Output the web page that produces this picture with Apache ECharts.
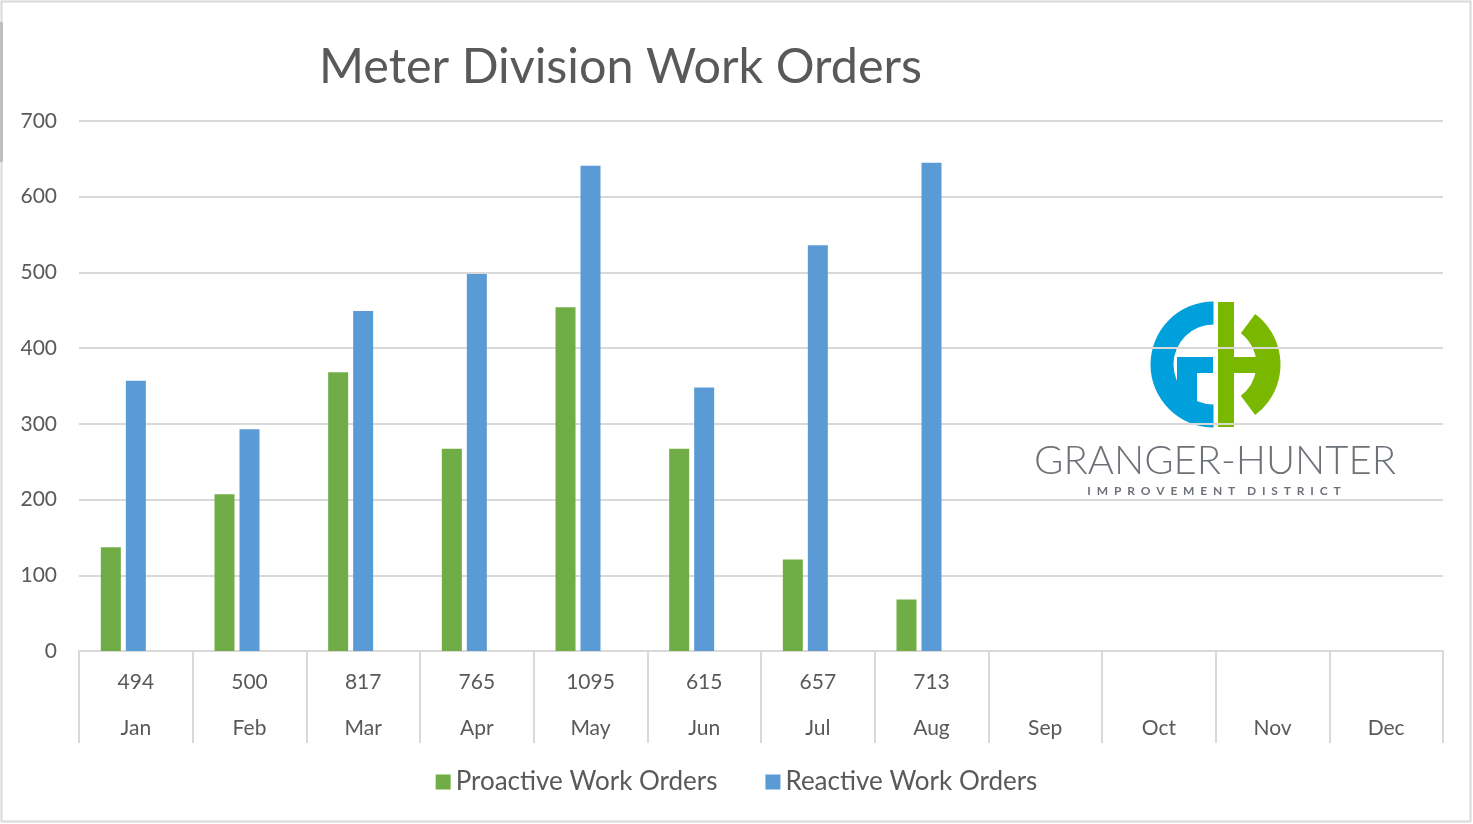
<!DOCTYPE html>
<html>
<head>
<meta charset="utf-8">
<title>Meter Division Work Orders</title>
<script src="https://cdn.jsdelivr.net/npm/echarts@6/dist/echarts.min.js"></script>
<style>
  html, body { margin: 0; padding: 0; background: #fff; }
  #chart { width: 1473px; height: 824px; }
</style>
</head>
<body>
<div id="chart"></div>
<script>
// data
const months = ['Jan', 'Feb', 'Mar', 'Apr', 'May', 'Jun', 'Jul', 'Aug', 'Sep', 'Oct', 'Nov', 'Dec']
const totals = ['494', '500', '817', '765', '1095', '615', '657', '713', '', '', '', '']
const proactive = [137, 207, 368, 267, 454, 267, 121, 68]
const reactive = [357, 293, 449, 498, 641, 348, 536, 645]
const yTicks = [0, 100, 200, 300, 400, 500, 600, 700]

const FONT = 'Lato, "Open Sans", sans-serif'
const TEXT = '#595959'
const GRID = '#d9d9d9'
const GREEN = '#70ad47'
const BLUE = '#5b9bd5'

const chart = echarts.init(document.getElementById('chart'))

// logo: GH circle made of two half rings plus the letter strokes
const cx = 1215.5
const cy = 364.5
const logo = [
  // G (blue)
  { type: 'sector', shape: { cx: cx - 2, cy: cy, r0: 40, r: 63, startAngle: Math.PI / 2, endAngle: Math.PI * 3 / 2 }, style: { fill: '#00a0dc' } },
  { type: 'rect', shape: { x: 1177, y: 357, width: 36, height: 16 }, style: { fill: '#00a0dc' } },
  { type: 'rect', shape: { x: 1177, y: 357, width: 20, height: 44 }, style: { fill: '#00a0dc' } },
  // H (green)
  { type: 'sector', shape: { cx: cx + 2, cy: cy, r0: 39, r: 63, startAngle: -0.93, endAngle: 0.93 }, style: { fill: '#7ab800' } },
  { type: 'rect', shape: { x: 1218, y: 302, width: 16, height: 125 }, style: { fill: '#7ab800' } },
  { type: 'rect', shape: { x: 1218, y: 357, width: 40, height: 16 }, style: { fill: '#7ab800' } },
  // words
  { type: 'text', x: 1215, y: 461, style: { text: 'GRANGER-HUNTER', font: '300 40px ' + FONT, fill: '#6d7278', align: 'center', verticalAlign: 'middle' } },
  { type: 'text', x: 1214, y: 491, style: { text: 'I  M  P  R  O  V  E  M  E  N  T    D  I  S  T  R  I  C  T', font: 'bold 12px ' + FONT, fill: '#6d7278', align: 'center', verticalAlign: 'middle' } }
]

chart.setOption({
  animation: false,
  backgroundColor: '#fff',
  textStyle: { fontFamily: FONT },
  title: {
    text: 'Meter Division Work Orders',
    left: 314,
    top: 38,
    textStyle: { fontSize: 48.5, fontWeight: 'normal', color: TEXT, fontFamily: FONT }
  },
  legend: {
    data: ['Proactive Work Orders', 'Reactive Work Orders'],
    left: 'center',
    top: 764,
    icon: 'rect',
    itemWidth: 15,
    itemHeight: 15,
    itemGap: 48,
    textStyle: { fontSize: 26, color: TEXT, fontFamily: FONT }
  },
  grid: { left: 79, right: 30, top: 121, bottom: 173 },
  xAxis: {
    type: 'category',
    data: months,
    axisLine: { lineStyle: { color: GRID, width: 2 } },
    axisTick: { show: true, length: 92, lineStyle: { color: GRID, width: 2 } },
    axisLabel: {
      margin: 8,
      formatter: (v, i) => '{t|' + totals[i] + '}\n{m|' + v + '}',
      rich: {
        t: { fontSize: 21, color: TEXT, lineHeight: 46, fontFamily: FONT },
        m: { fontSize: 21, color: TEXT, lineHeight: 46, fontFamily: FONT }
      }
    }
  },
  yAxis: {
    type: 'value',
    min: yTicks[0],
    max: yTicks[yTicks.length - 1],
    interval: 100,
    axisLine: { show: false },
    axisTick: { show: false },
    axisLabel: { margin: 22, fontSize: 21, color: TEXT, fontFamily: FONT },
    splitLine: { lineStyle: { color: GRID, width: 2 } }
  },
  series: [
    {
      name: 'Proactive Work Orders',
      type: 'bar',
      barWidth: 20,
      barGap: '25%',
      itemStyle: { color: GREEN },
      data: proactive
    },
    {
      name: 'Reactive Work Orders',
      type: 'bar',
      barWidth: 20,
      barGap: '25%',
      itemStyle: { color: BLUE },
      data: reactive
    },
    {
      // empty third slot (the total row in the original sheet), keeps the pair off-centre
      name: 'Total',
      type: 'bar',
      barWidth: 20,
      barGap: '25%',
      data: []
    }
  ],
  graphic: [
    { type: 'rect', shape: { x: 1.5, y: 1.5, width: 1469, height: 820 }, style: { fill: 'none', stroke: GRID, lineWidth: 2 }, z: 100 },
    { type: 'rect', shape: { x: 0, y: 22, width: 3, height: 140 }, style: { fill: '#bfbfbf' }, z: 100 }
  ].concat(logo)
})
</script>
</body>
</html>
